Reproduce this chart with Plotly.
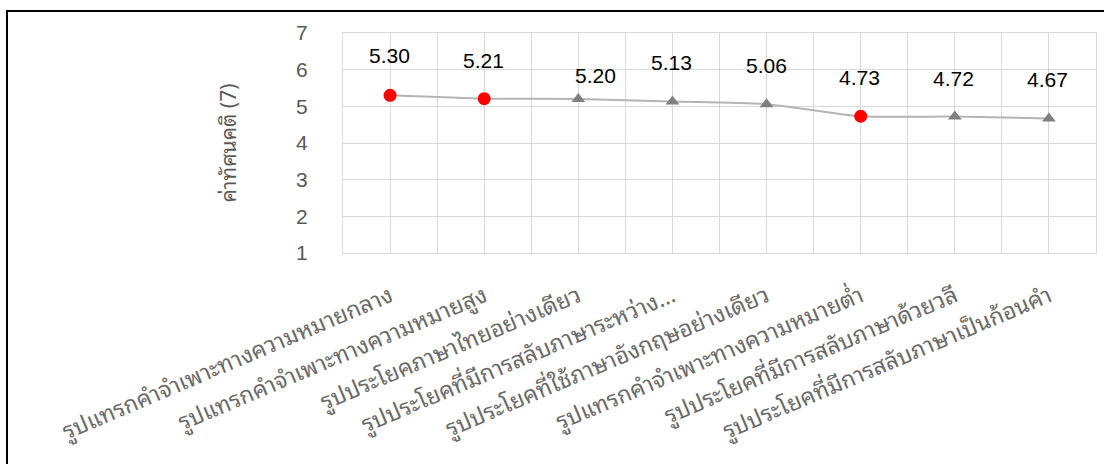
import plotly.graph_objects as go

# Attitude scores (7-point scale) for each sentence pattern
categories = [
    "รูปแทรกคำจำเพาะทางความหมายกลาง",
    "รูปแทรกคำจำเพาะทางความหมายสูง",
    "รูปประโยคภาษาไทยอย่างเดียว",
    "รูปประโยคที่มีการสลับภาษาระหว่าง…",
    "รูปประโยคที่ใช้ภาษาอังกฤษอย่างเดียว",
    "รูปแทรกคำจำเพาะทางความหมายต่ำ",
    "รูปประโยคที่มีการสลับภาษาด้วยวลี",
    "รูปประโยคที่มีการสลับภาษาเป็นก้อนคำ",
]
scores = [5.30, 5.21, 5.20, 5.13, 5.06, 4.73, 4.72, 4.67]
# insertion-type patterns are highlighted
highlighted = [True, True, False, False, False, True, False, False]
y_ticks = [1, 2, 3, 4, 5, 6, 7]

# label offsets in pixels (dx, dy) above each point
label_offsets = [(-1, -40), (-1, -38), (17, -24), (-1, -39),
                 (0, -39), (-1, -39), (-1, -38), (-1, -39)]

THAI_FONT = ("Noto Sans Thai Looped, Noto Serif Thai, Kinnari, Norasi, "
             "Tlwg Typist, Liberation Sans, sans-serif")

xs = list(range(len(categories)))
colors = ["#ff0000" if h else "#808080" for h in highlighted]
symbols = ["circle" if h else "triangle-up" for h in highlighted]
sizes = [13 if h else 12 for h in highlighted]

fig = go.Figure()
fig.add_trace(go.Scatter(
    x=xs, y=scores, mode="lines+markers",
    line=dict(color="#b4b4b4", width=2, shape="spline", smoothing=0.6),
    marker=dict(color=colors, symbol=symbols, size=sizes, opacity=1,
                line=dict(width=0)),
    hoverinfo="skip", showlegend=False,
))

for x, v, (dx, dy) in zip(xs, scores, label_offsets):
    fig.add_annotation(
        x=x, y=v, text=f"{v:.2f}", showarrow=False,
        xshift=dx, yshift=-dy, yanchor="middle",
        font=dict(family="Liberation Sans, Arial", size=21, color="#000000"),
    )

# outer chart frame
fig.add_shape(
    type="rect", xref="paper", yref="paper",
    x0=-0.4462, x1=1.03, y0=-1.2, y1=1.1,
    line=dict(color="#000000", width=2), fillcolor="rgba(0,0,0,0)",
    layer="above",
)

fig.update_layout(
    width=1104, height=464,
    margin=dict(l=343, r=8, t=33, b=211),
    paper_bgcolor="#ffffff", plot_bgcolor="#ffffff",
    font=dict(family="Liberation Sans, Arial", color="#595959"),
    xaxis=dict(
        range=[-0.5, len(categories) - 0.5],
        tickmode="array", tickvals=xs, ticktext=categories,
        tickangle=-23, ticks="", ticklabelstandoff=20,
        showgrid=True, gridcolor="#d9d9d9", gridwidth=1,
        minor=dict(tickmode="array", tickvals=[x - 0.5 for x in xs] + [len(xs) - 0.5],
                   showgrid=True, gridcolor="#d9d9d9", gridwidth=1, ticks=""),
        showline=True, linecolor="#d9d9d9", linewidth=1, mirror=True,
        zeroline=False,
        tickfont=dict(family=THAI_FONT, size=23, color="#6a6a6a"),
    ),
    yaxis=dict(
        range=[1, 7], tickmode="array", tickvals=y_ticks,
        showgrid=True, gridcolor="#d9d9d9", gridwidth=1,
        showline=True, linecolor="#d9d9d9", linewidth=1, mirror=True,
        zeroline=False, ticks="", ticklabelstandoff=30,
        tickfont=dict(size=21, color="#595959"),
        title=dict(text="ค่าทัศนคติ (7)",
                   font=dict(family=THAI_FONT, size=21, color="#595959"),
                   standoff=53),
    ),
)

fig.write_html("out.html")
